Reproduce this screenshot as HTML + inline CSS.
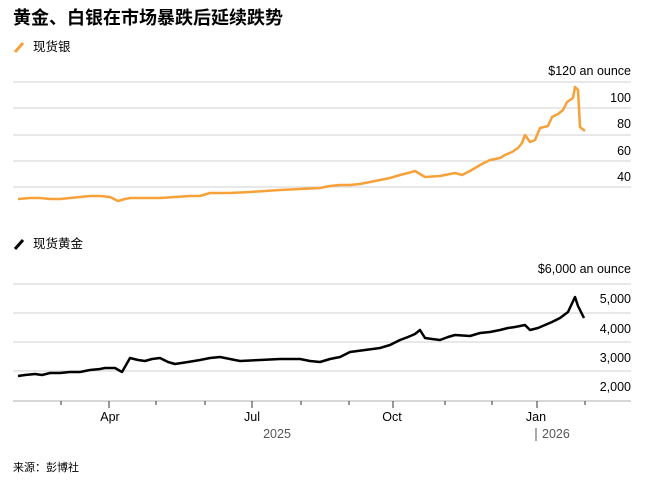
<!DOCTYPE html>
<html><head><meta charset="utf-8"><style>
body{margin:0;background:#fff;width:647px;height:483px;overflow:hidden;font-family:"Liberation Sans","Noto Sans CJK SC",sans-serif;}
svg text{font-family:"Liberation Sans","Noto Sans CJK SC",sans-serif;}
</style></head><body>
<svg width="647" height="483" xmlns="http://www.w3.org/2000/svg">
<text x="13" y="24" font-size="18" font-weight="bold" fill="#000">黄金、白银在市场暴跌后延续跌势</text>
<line x1="15" y1="52" x2="23" y2="43" stroke="#f7a13a" stroke-width="3"/>
<text x="33" y="51" font-size="12.5" fill="#000">现货银</text>
<text x="631" y="75" font-size="12.5" text-anchor="end">$120 an ounce</text>
<g stroke="#d0d0d0" stroke-width="1">
<line x1="13" y1="82" x2="631" y2="82"/><line x1="13" y1="108" x2="631" y2="108"/><line x1="13" y1="135" x2="631" y2="135"/><line x1="13" y1="161" x2="631" y2="161"/><line x1="13" y1="187" x2="631" y2="187"/>
</g>
<g font-size="12.5" text-anchor="end"><text x="631" y="102">100</text><text x="631" y="128">80</text><text x="631" y="155">60</text><text x="631" y="181">40</text></g>
<polyline fill="none" stroke="#f7a13a" stroke-width="2.5" stroke-linejoin="round" points="18,199 30,198 40,198 50,199 60,199 70,198 80,197 90,196 100,196 110,197 118,201 125,199 130,198 145,198 160,198 175,197 190,196 200,196 210,193 230,193 250,192 265,191 280,190 300,189 320,188 330,186 340,185 350,185 360,184 370,182 380,180 390,178 400,175 408,173 415,171 420,174 425,177 440,176 450,174 455,173 462,175 470,171 475,168 482,164 490,160 500,158 505,155 512,152 518,148 522,143 525,135 530,142 535,140 540,128 548,126 552,117 558,114 563,110 567,102 570,100 573,98 575,87 578,90 580,127 585,131"/>
<line x1="15" y1="249" x2="23" y2="240" stroke="#000" stroke-width="3"/>
<text x="33" y="248" font-size="12.5">现货黄金</text>
<text x="631" y="273" font-size="12.5" text-anchor="end">$6,000 an ounce</text>
<g stroke="#d0d0d0" stroke-width="1">
<line x1="13" y1="284" x2="631" y2="284"/><line x1="13" y1="313" x2="631" y2="313"/><line x1="13" y1="342" x2="631" y2="342"/><line x1="13" y1="371" x2="631" y2="371"/>
</g>
<g font-size="12.5" text-anchor="end"><text x="631" y="303">5,000</text><text x="631" y="333">4,000</text><text x="631" y="362">3,000</text><text x="631" y="391">2,000</text></g>
<polyline fill="none" stroke="#000" stroke-width="2.5" stroke-linejoin="round" points="18,376 25,375 35,374 42,375 50,373 60,373 70,372 80,372 90,370 100,369 105,368 115,368 122,372 130,358 138,360 145,361 152,359 160,358 168,362 175,364 188,362 200,360 210,358 220,357 230,359 240,361 260,360 280,359 300,359 310,361 320,362 330,359 340,357 350,352 365,350 380,348 390,345 400,340 408,337 415,334 420,330 425,338 432,339 440,340 448,337 455,335 470,336 480,333 490,332 500,330 508,328 515,327 525,325 530,330 538,328 545,325 552,322 560,318 568,312 575,297 578,306 584,318"/>
<line x1="13" y1="401" x2="631" y2="401" stroke="#d8d8d8" stroke-width="2"/>
<g stroke="#333" stroke-width="1">
<line x1="61" y1="401" x2="61" y2="405"/><line x1="109" y1="401" x2="109" y2="408"/><line x1="156" y1="401" x2="156" y2="405"/><line x1="205" y1="401" x2="205" y2="405"/><line x1="252" y1="401" x2="252" y2="408"/><line x1="301" y1="401" x2="301" y2="405"/><line x1="349" y1="401" x2="349" y2="405"/><line x1="393" y1="401" x2="393" y2="408"/><line x1="445" y1="401" x2="445" y2="405"/><line x1="492" y1="401" x2="492" y2="405"/><line x1="537" y1="401" x2="537" y2="408"/><line x1="585" y1="401" x2="585" y2="405"/>
</g>
<g font-size="12.5" text-anchor="middle"><text x="110" y="421">Apr</text><text x="252" y="421">Jul</text><text x="392" y="421">Oct</text><text x="536" y="421">Jan</text></g>
<text x="277" y="438" font-size="12.5" fill="#555" text-anchor="middle">2025</text>
<line x1="536" y1="428" x2="536" y2="441" stroke="#555" stroke-width="1"/>
<text x="542" y="438" font-size="12.5" fill="#555">2026</text>
<text x="13" y="471" font-size="11">来源：彭博社</text>
</svg>
</body></html>
